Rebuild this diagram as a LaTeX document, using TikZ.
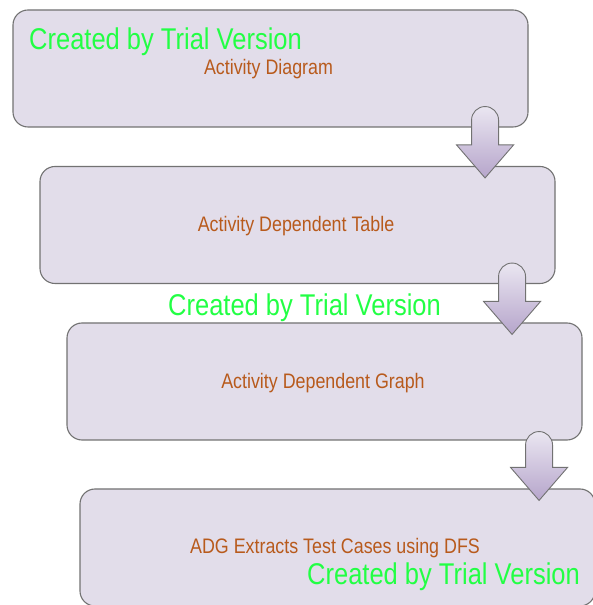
\documentclass[tikz,border=0pt]{standalone}
\usepackage{fontspec}
\usepackage{xcolor}
\usepackage{tikz}
\usetikzlibrary{calc, positioning}
\newfontfamily\narrowsans[FakeStretch=0.85]{Liberation Sans}
\definecolor{boxfill}{HTML}{E2DDEA}
\definecolor{boxline}{HTML}{727272}
\definecolor{steptext}{HTML}{B85A1C}
\definecolor{trialgreen}{HTML}{22FF44}
\definecolor{arrowtop}{HTML}{EAE6F1}
\definecolor{arrowbot}{HTML}{B6A5CB}

% fat down arrow from a start point (top of shaft) to its tip
\newcommand{\fatarrow}[2]{%
  \draw[bigarrow] let \p1=(#1), \p2=(#2) in
    (\x1-13.5,\y1-13.5) arc[start angle=180, end angle=0, radius=13.5]
    -- (\x1+13.5,\y2+33) -- (\x1+28.5,\y2+33) -- (\x1,\y2)
    -- (\x1-28.5,\y2+33) -- (\x1-13.5,\y2+33) -- cycle;}

\begin{document}
\begin{tikzpicture}[
  x=1pt, y=1pt,
  stepbox/.style={rectangle, draw=boxline, line width=1.1pt, rounded corners=15pt, fill=boxfill, minimum width=515pt, minimum height=117pt, inner sep=0pt},
  steplabel/.style={text=steptext, font=\narrowsans\fontsize{21}{24}\selectfont},
  bigarrow/.style={draw=boxline, line width=0.9pt, top color=arrowtop, bottom color=arrowbot},
  trial/.style={anchor=base west, inner sep=0pt, text=trialgreen, font=\narrowsans\fontsize{30}{34}\selectfont},
]
\useasboundingbox (0,0) rectangle (592,605);

\node[stepbox] (diagram) at (270.5,536.5) {};
\node[stepbox] (table) at (297.5,380) {};
\node[stepbox] (graph) at (324.5,223.5) {};
\node[stepbox] (extract) at (337.5,57.5) {};

\node[steplabel] (diagramtxt) at ($(diagram.center)+(-2,-1)$) {Activity Diagram};
\node[steplabel] (tabletxt) at ($(table.center)+(-1.5,-1)$) {Activity Dependent Table};
\node[steplabel] (graphtxt) at ($(graph.center)+(-1.5,-1.5)$) {Activity Dependent Graph};
\node[steplabel] (extracttxt) at ($(extract.center)+(-2.5,-1)$) {ADG Extracts Test Cases using DFS};

\coordinate (a1s) at ($(diagram.south east)+(-43.5,21)$);
\coordinate (a1t) at ($(table.north east)+(-70.5,-12)$);
\coordinate (a2s) at ($(table.south east)+(-43.5,21)$);
\coordinate (a2t) at ($(graph.north east)+(-70.5,-12)$);
\coordinate (a3s) at ($(graph.south east)+(-43.5,9)$);
\coordinate (a3t) at ($(extract.north east)+(-70.5,-12)$);

\fatarrow{a1s}{a1t}
\fatarrow{a2s}{a2t}
\fatarrow{a3s}{a3t}

\node[trial] (mark1) at (29,555) {Created by Trial Version};
\node[trial] (mark2) at (168,289) {Created by Trial Version};
\node[trial] (mark3) at (307,20) {Created by Trial Version};

\end{tikzpicture}
\end{document}
